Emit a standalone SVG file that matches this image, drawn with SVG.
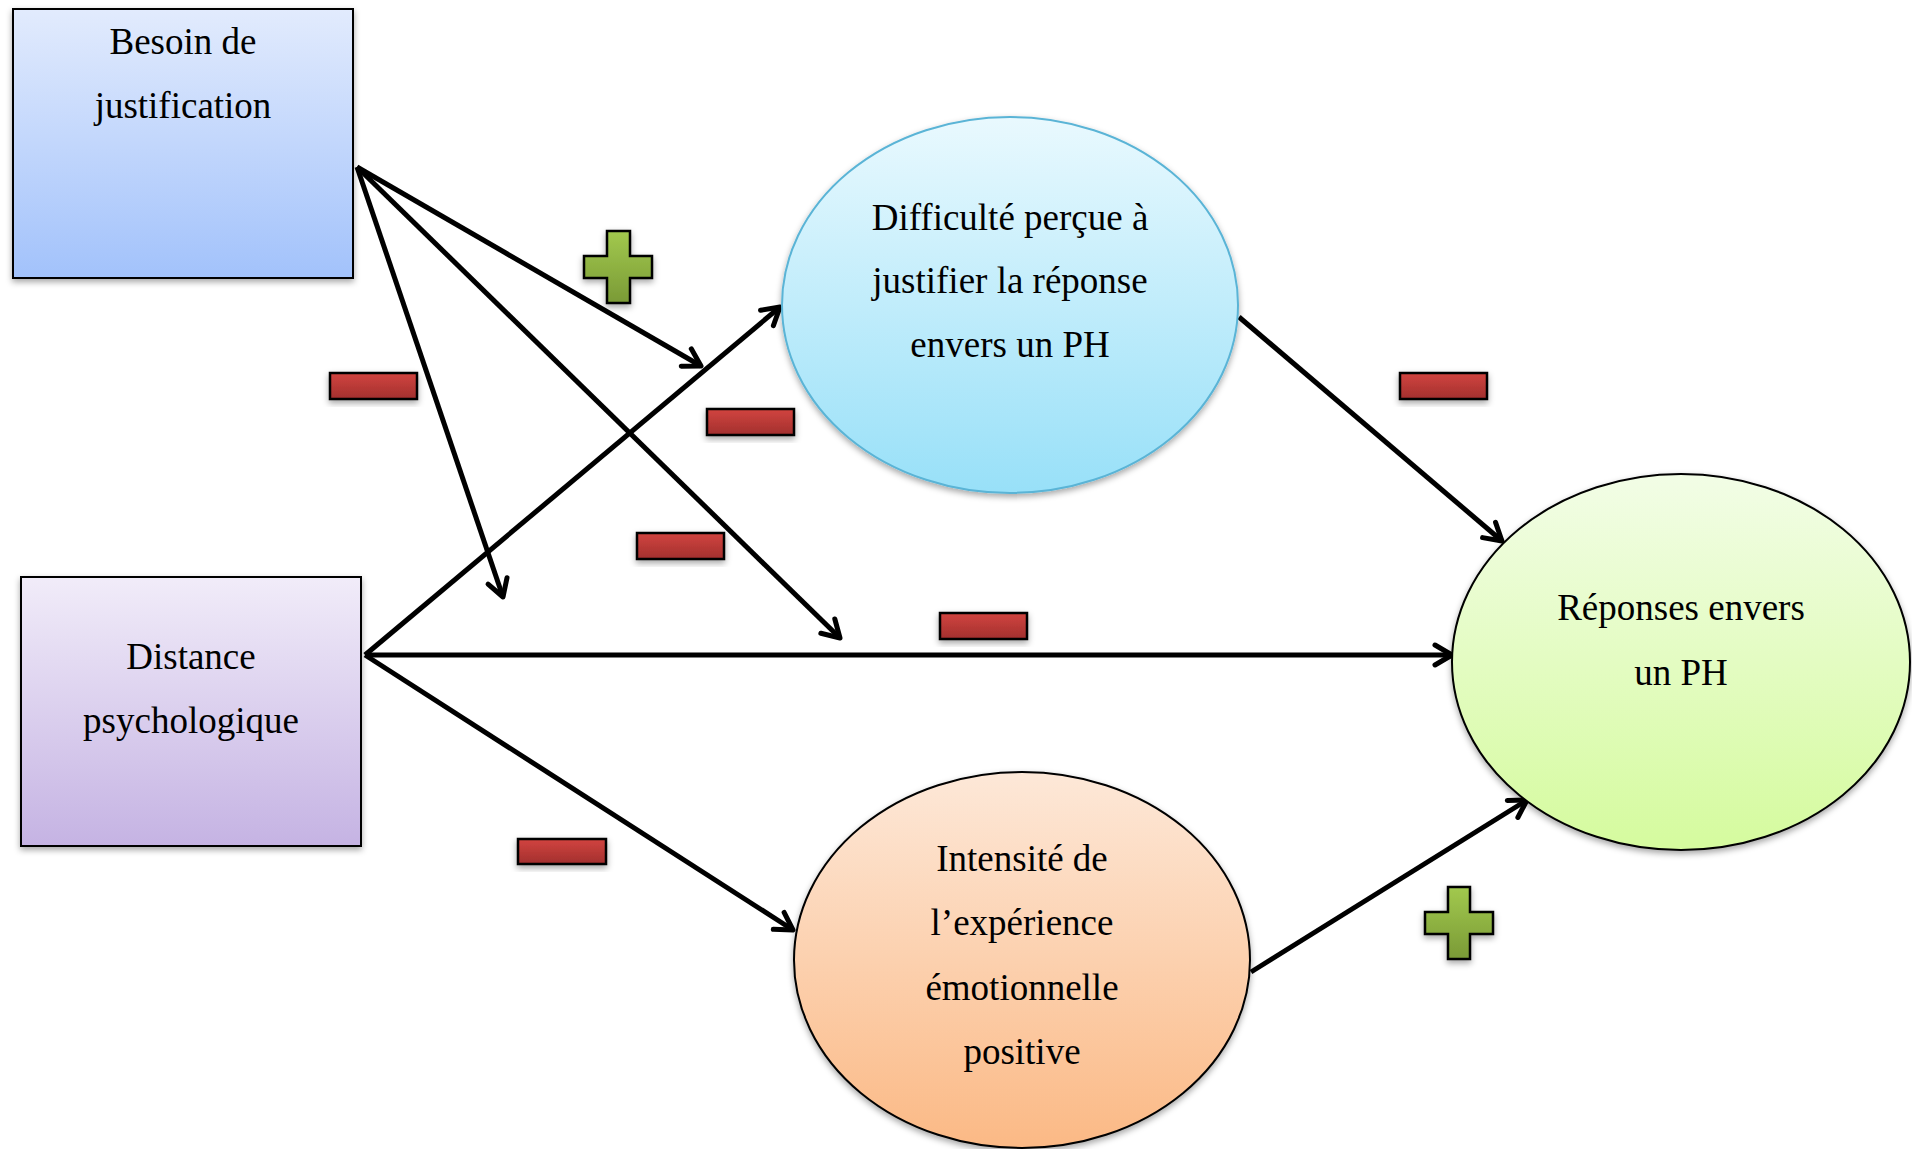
<svg xmlns="http://www.w3.org/2000/svg" width="1912" height="1149" viewBox="0 0 1912 1149">
<defs>
<linearGradient id="gBlue" x1="0" y1="0" x2="0" y2="1"><stop offset="0" stop-color="#e2ebfd"/><stop offset="1" stop-color="#a2c2fb"/></linearGradient>
<linearGradient id="gPurple" x1="0" y1="0" x2="0" y2="1"><stop offset="0" stop-color="#f1ecf9"/><stop offset="1" stop-color="#c5b3e3"/></linearGradient>
<linearGradient id="gCyan" x1="0" y1="0" x2="0" y2="1"><stop offset="0" stop-color="#e9f9fe"/><stop offset="1" stop-color="#98e0f8"/></linearGradient>
<linearGradient id="gGreen" x1="0" y1="0" x2="0" y2="1"><stop offset="0" stop-color="#f2fde6"/><stop offset="1" stop-color="#d5fb9e"/></linearGradient>
<linearGradient id="gOrange" x1="0" y1="0" x2="0" y2="1"><stop offset="0" stop-color="#fde8d8"/><stop offset="1" stop-color="#fbb985"/></linearGradient>
<linearGradient id="gRed" x1="0" y1="0" x2="0" y2="1"><stop offset="0" stop-color="#d24440"/><stop offset="1" stop-color="#a2302e"/></linearGradient>
<linearGradient id="gPlus" x1="0" y1="0" x2="0" y2="1"><stop offset="0" stop-color="#a2c94e"/><stop offset="1" stop-color="#7a9a36"/></linearGradient>
<filter id="sh" x="-20%" y="-20%" width="140%" height="150%"><feDropShadow dx="0" dy="3" stdDeviation="3" flood-color="#000" flood-opacity="0.35"/></filter>
<marker id="arr" markerUnits="userSpaceOnUse" viewBox="-22 -14 26 28" markerWidth="26" markerHeight="28" refX="0" refY="0" orient="auto">
<path d="M-17,-10 L0,0 L-17,10" fill="none" stroke="#000" stroke-width="5" stroke-linecap="round" stroke-linejoin="round"/>
</marker>
</defs>
<style>
.t{font-family:"Liberation Serif","Times New Roman",serif;font-size:37px;fill:#000;text-anchor:middle}
.c{fill:none;stroke:#000;stroke-width:5;marker-end:url(#arr)}
.minus{fill:url(#gRed);stroke:#000;stroke-width:2.5;filter:url(#sh)}
.plus{fill:url(#gPlus);stroke:#000;stroke-width:2.5;filter:url(#sh)}
</style>
<rect width="1912" height="1149" fill="#fff"/>
<g id="connectors">
<line class="c" x1="357" y1="167" x2="701" y2="366"/>
<line class="c" x1="357" y1="167" x2="503" y2="597"/>
<line class="c" x1="357" y1="167" x2="840" y2="638"/>
<line class="c" x1="365" y1="655" x2="780" y2="307"/>
<line class="c" x1="365" y1="655" x2="1452" y2="655"/>
<line class="c" x1="365" y1="655" x2="793" y2="930"/>
<line class="c" x1="1239" y1="317" x2="1502" y2="541"/>
<line class="c" x1="1251" y1="972" x2="1527" y2="800"/>
</g>
<g id="besoin">
<rect x="13" y="9" width="340" height="269" fill="url(#gBlue)" stroke="#000" stroke-width="2" filter="url(#sh)"/>
<text class="t" x="183" y="54">Besoin de</text>
<text class="t" x="183" y="118">justification</text>
</g>
<g id="distance">
<rect x="21" y="577" width="340" height="269" fill="url(#gPurple)" stroke="#000" stroke-width="2" filter="url(#sh)"/>
<text class="t" x="191" y="669">Distance</text>
<text class="t" x="191" y="733">psychologique</text>
</g>
<g id="difficulte">
<ellipse cx="1010" cy="305" rx="228" ry="188" fill="url(#gCyan)" stroke="#5ab4d6" stroke-width="2" filter="url(#sh)"/>
<text class="t" x="1010" y="230">Difficulté perçue à</text>
<text class="t" x="1010" y="293">justifier la réponse</text>
<text class="t" x="1010" y="357">envers un PH</text>
</g>
<g id="reponses">
<ellipse cx="1681" cy="662" rx="229" ry="188" fill="url(#gGreen)" stroke="#000" stroke-width="2" filter="url(#sh)"/>
<text class="t" x="1681" y="620">Réponses envers</text>
<text class="t" x="1681" y="685">un PH</text>
</g>
<g id="intensite">
<ellipse cx="1022" cy="960" rx="228" ry="188" fill="url(#gOrange)" stroke="#000" stroke-width="2" filter="url(#sh)"/>
<text class="t" x="1022" y="871">Intensité de</text>
<text class="t" x="1022" y="935">l’expérience</text>
<text class="t" x="1022" y="1000">émotionnelle</text>
<text class="t" x="1022" y="1064">positive</text>
</g>
<g id="signs">
<rect class="minus" x="330" y="373" width="87" height="26"/>
<rect class="minus" x="707" y="409" width="87" height="26"/>
<rect class="minus" x="637" y="533" width="87" height="26"/>
<rect class="minus" x="940" y="613" width="87" height="26"/>
<rect class="minus" x="1400" y="373" width="87" height="26"/>
<rect class="minus" x="518" y="839" width="88" height="25"/>
<path class="plus" d="M607,231 H630 V256 H652 V278 H630 V303 H607 V278 H584 V256 H607 Z"/>
<path class="plus" d="M1448,887 H1470 V912 H1493 V934 H1470 V959 H1448 V934 H1425 V912 H1448 Z"/>
</g>
</svg>
